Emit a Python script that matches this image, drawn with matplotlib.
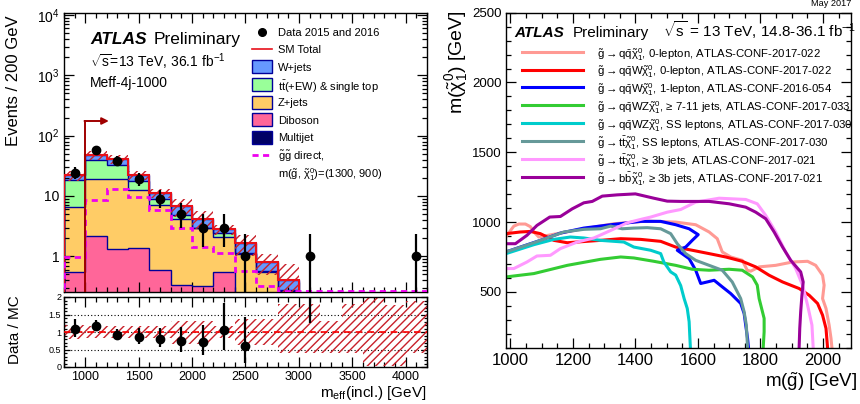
import numpy as np
import matplotlib
matplotlib.use("Agg")
import matplotlib.pyplot as plt
from matplotlib.ticker import FixedLocator, FixedFormatter, MultipleLocator, NullFormatter, LogLocator
from matplotlib.lines import Line2D
from matplotlib.patches import Rectangle

plt.rcParams['font.family'] = ['Liberation Sans', 'DejaVu Sans']
plt.rcParams['mathtext.fontset'] = 'custom'
plt.rcParams['mathtext.rm'] = 'Liberation Sans'
plt.rcParams['mathtext.it'] = 'Liberation Sans'
plt.rcParams['mathtext.bf'] = 'Liberation Sans:bold'
plt.rcParams['mathtext.sf'] = 'Liberation Sans'
plt.rcParams['hatch.linewidth'] = 1.0

# ---------------- left panel data ----------------
bin_edges = [800, 1000, 1200, 1400, 1600, 1800, 2000, 2200, 2400, 2600, 2800,
             3000, 3200, 3400, 3600, 3800, 4000, 4200]
diboson = [0.55, 2.15, 1.32, 1.39, 0.60, 0.33, 0.32, 0.55, 0.0, 0.0, 0.0, 0.0, 0.0, 0.0, 0.0, 0.0, 0.0]
zjets = [6.05, 16.75, 18.08, 11.0, 6.6, 3.87, 2.58, 1.54, 1.1, 0.55, 0.27, 0.12, 0.08, 0.06, 0.05, 0.04, 0.07]
ttbar = [11.6, 21.1, 13.6, 5.1, 1.6, 0.6, 0.05, 0.31, 0.02, 0.02, 0.01, 0.005, 0.003, 0.003, 0.003, 0.003, 0.003]
wjets = [3.8, 8.4, 8.6, 4.5, 2.4, 1.9, 1.25, 0.4, 0.54, 0.22, 0.13, 0.01, 0.005, 0.005, 0.005, 0.005, 0.005]
multijet = [0.0] * 17
signal = [0.97, 8.5, 12.9, 9.6, 5.8, 2.95, 1.43, 1.14, 0.57, 0.32, 0.27, 0.1, 0.08, 0.05, 0.04, 0.03, 0.05]
data = [24, 57, 38, 19, 9, 5, 3, 3, 1, 0, 0, 1, 0, 0, 0, 0, 1]
data_err_lo = [4.9, 7.5, 6.2, 4.4, 2.6, 2.1, 1.6, 1.6, 0.83, 0, 0, 0.83, 0, 0, 0, 0, 0.83]
data_err_hi = [5.9, 8.6, 7.2, 5.4, 3.4, 2.6, 2.1, 2.1, 1.37, 0, 0, 1.37, 0, 0, 0, 0, 1.37]
unc_up = [0.19, 0.17, 0.17, 0.17, 0.17, 0.32, 0.32, 0.18, 0.38, 0.38, 0.81, 0.81, 0.32, 0.81, 1.2, 0.76, 0.9]
unc_dn = [0.19, 0.17, 0.17, 0.17, 0.17, 0.33, 0.33, 0.18, 0.38, 0.38, 0.61, 0.61, 0.61, 0.60, 0.96, 0.96, 0.60]
ratio_ticks = [0, 0.5, 1, 1.5, 2]
ratio_ticklabels = ['0', '0.5', '1', '1.5', '2']
main_yticks = [1, 10, 100, 1000, 10000]
main_yticklabels = ['1', '10', '$10^{2}$', '$10^{3}$', '$10^{4}$']
sr_cut = 1000
sr_arrow_end = 1220
sr_arrow_height = 175

# ---------------- right panel data ----------------
c1_m = [989, 1011, 1027, 1048, 1064, 1075, 1091, 1150, 1235, 1331, 1438, 1529, 1593, 1636, 1662, 1678, 1705, 1742, 1758, 1769, 1796, 1849, 1903, 1951, 1977, 1999, 2004, 1999, 2010, 2020, 2026, 2029]
c1_v = [905, 971, 986, 986, 967, 929, 893, 917, 952, 988, 1007, 1000, 981, 929, 881, 786, 750, 726, 655, 648, 679, 690, 714, 719, 690, 619, 548, 452, 381, 262, 167, 100]
c2_m = [986, 1032, 1064, 1096, 1139, 1182, 1288, 1353, 1417, 1481, 1529, 1582, 1636, 1689, 1742, 1785, 1828, 1871, 1924, 1956, 1983, 1999, 2010, 2015]
c2_v = [917, 929, 933, 917, 869, 852, 869, 881, 876, 862, 821, 798, 774, 750, 719, 679, 619, 571, 524, 476, 417, 333, 238, 100]
c3_m = [986, 1032, 1096, 1160, 1235, 1321, 1417, 1481, 1529, 1572, 1601, 1582, 1561, 1534, 1572, 1593, 1609, 1630, 1652, 1678, 1705, 1737, 1748, 1753, 1759, 1762]
c3_v = [786, 821, 869, 921, 957, 981, 1005, 1005, 981, 952, 910, 869, 821, 798, 738, 655, 560, 571, 583, 536, 488, 417, 345, 262, 167, 100]
c4_m = [986, 1075, 1182, 1288, 1353, 1395, 1459, 1529, 1582, 1636, 1700, 1742, 1775, 1790, 1796, 1812, 1812, 1809]
c4_v = [607, 631, 690, 733, 750, 743, 719, 690, 662, 655, 662, 655, 607, 548, 452, 310, 214, 100]
c5_m = [986, 1075, 1139, 1192, 1235, 1288, 1363, 1395, 1449, 1481, 1491, 1513, 1529, 1545, 1556, 1566, 1572, 1574, 1576]
c5_v = [774, 838, 876, 893, 886, 869, 857, 821, 798, 774, 714, 643, 620, 545, 452, 381, 286, 190, 100]
c6_m = [986, 1075, 1171, 1235, 1288, 1321, 1358, 1395, 1438, 1481, 1513, 1534, 1561, 1593, 1636, 1678, 1710, 1737, 1748, 1755, 1759]
c6_v = [786, 852, 929, 948, 952, 971, 952, 957, 960, 952, 917, 845, 774, 726, 690, 655, 571, 452, 357, 262, 100]
c7_m = [986, 1011, 1053, 1085, 1128, 1160, 1214, 1267, 1321, 1374, 1417, 1449, 1502, 1545, 1593, 1668, 1753, 1790, 1817, 1849, 1881, 1913, 1935, 1951, 1965, 1969]
c7_v = [667, 667, 714, 757, 762, 810, 857, 886, 940, 995, 1019, 1036, 1071, 1090, 1143, 1171, 1162, 1131, 1048, 929, 786, 667, 548, 405, 262, 100]
c8_m = [986, 1016, 1053, 1085, 1126, 1160, 1198, 1235, 1262, 1294, 1342, 1400, 1459, 1502, 1545, 1636, 1700, 1753, 1785, 1817, 1844, 1871, 1897, 1929, 1937, 1933, 1929, 1926, 1924]
c8_v = [845, 845, 905, 976, 1036, 1040, 1095, 1138, 1148, 1186, 1195, 1202, 1171, 1150, 1148, 1148, 1131, 1107, 1071, 1024, 929, 821, 726, 643, 571, 476, 357, 238, 100]

curve_labels = [
    r"$\tilde{g}\rightarrow q\bar{q}\tilde{\chi}^{0}_{1}$, 0-lepton, ATLAS-CONF-2017-022",
    r"$\tilde{g}\rightarrow q\bar{q}W\tilde{\chi}^{0}_{1}$, 0-lepton, ATLAS-CONF-2017-022",
    r"$\tilde{g}\rightarrow q\bar{q}W\tilde{\chi}^{0}_{1}$, 1-lepton, ATLAS-CONF-2016-054",
    r"$\tilde{g}\rightarrow q\bar{q}WZ\tilde{\chi}^{0}_{1}$, ≥ 7-11 jets, ATLAS-CONF-2017-033",
    r"$\tilde{g}\rightarrow q\bar{q}WZ\tilde{\chi}^{0}_{1}$, SS leptons, ATLAS-CONF-2017-030",
    r"$\tilde{g}\rightarrow t\bar{t}\tilde{\chi}^{0}_{1}$, SS leptons, ATLAS-CONF-2017-030",
    r"$\tilde{g}\rightarrow t\bar{t}\tilde{\chi}^{0}_{1}$, ≥ 3b jets, ATLAS-CONF-2017-021",
    r"$\tilde{g}\rightarrow b\bar{b}\tilde{\chi}^{0}_{1}$, ≥ 3b jets, ATLAS-CONF-2017-021",
]
curve_colors = ['#ff9a94', '#ff0000', '#0000ff', '#33cc33', '#00cccc', '#669999', '#ff99ff', '#990099']

# ---------------- figure ----------------
W, H = 860, 404
def fx(x): return x / W
def fy(y): return 1 - y / H

fig = plt.figure(figsize=(8.6, 4.04), dpi=100)
ax1 = fig.add_axes([fx(64), fy(292), (427 - 64) / W, (292 - 13) / H])
axr = fig.add_axes([fx(64), fy(367), (427 - 64) / W, (367 - 297) / H])
ax2 = fig.add_axes([fx(505.7), fy(347.7), (851 - 505.7) / W, (347.7 - 12.7) / H])

navy = '#000099'
c_w, c_tt, c_z, c_db, c_mj = '#6699ff', '#99ff99', '#ffcc66', '#ff6699', '#000066'
hatch_col = '#c8202a'
sm_col = '#e8101a'
sig_col = '#ee00ee'

edges = np.array(bin_edges, dtype=float)
centers = 0.5 * (edges[:-1] + edges[1:])
ymin, ymax = 0.256, 1.08e4
floor = 1e-3

comps = [np.array(multijet), np.array(diboson), np.array(zjets), np.array(ttbar), np.array(wjets)]
cols = [c_mj, c_db, c_z, c_tt, c_w]
cum_prev = np.full(17, floor)
cums = []
running = np.zeros(17)
for comp, col in zip(comps, cols):
    running = running + comp
    top = np.maximum(running, floor)
    ax1.stairs(top, edges, baseline=cum_prev, fill=True, color=col, lw=0, zorder=1)
    cums.append(top.copy())
    cum_prev = top.copy()
for top in cums[1:]:
    ax1.stairs(top, edges, color=navy, lw=1.0, zorder=2)

total = running
up = total * (1 + np.array(unc_up))
dn = np.maximum(total * (1 - np.array(unc_dn)), floor)
ax1.stairs(up, edges, baseline=dn, fill=True, facecolor='none', edgecolor=hatch_col,
           hatch='////', lw=0, zorder=3)
ax1.stairs(np.maximum(total, floor), edges, color=sm_col, lw=1.5, zorder=4)
ax1.stairs(np.clip(signal, ymin * 1.03, None), edges, color=sig_col, lw=2.0,
           linestyle=(0, (2.2, 1.6)), zorder=5)

d = np.array(data, dtype=float)
m = d > 0
ax1.errorbar(centers[m], d[m], yerr=[np.array(data_err_lo)[m], np.array(data_err_hi)[m]],
             fmt='o', color='black', ms=6, lw=1.6, capsize=0, zorder=6)

# signal region arrow
ax1.plot([sr_cut, sr_cut], [ymin, sr_arrow_height], color='#a00000', lw=1.4, zorder=7)
ax1.annotate('', xy=(sr_arrow_end, sr_arrow_height), xytext=(sr_cut - 8, sr_arrow_height),
             arrowprops=dict(arrowstyle='-|>', color='#a00000', lw=1.4, mutation_scale=10,
                             shrinkA=0, shrinkB=0), zorder=7)

ax1.set_yscale('log')
ax1.set_xlim(800, 4200)
ax1.set_ylim(ymin, ymax)
ax1.yaxis.set_major_locator(FixedLocator(main_yticks))
ax1.yaxis.set_major_formatter(FixedFormatter(main_yticklabels))
ax1.yaxis.set_minor_locator(LogLocator(base=10, subs=np.arange(2, 10)))
ax1.yaxis.set_minor_formatter(NullFormatter())
ax1.xaxis.set_major_locator(MultipleLocator(500))
ax1.xaxis.set_minor_locator(MultipleLocator(100))
ax1.set_xticklabels([])
ax1.tick_params(axis='y', which='major', labelsize=10)

# ratio panel
mc = total
r_edges_up = 1 + np.array(unc_up)
r_edges_dn = 1 - np.array(unc_dn)
axr.stairs(r_edges_up, edges, baseline=r_edges_dn, fill=True, facecolor='none',
           edgecolor=hatch_col, hatch='////', lw=0, zorder=2)
for yv in [0.5, 1.0, 1.5]:
    axr.axhline(yv, color='black', lw=0.8, linestyle=(0, (1, 2)), zorder=1)
axr.axhline(1.0, color='#ff0000', lw=1.2, linestyle=(0, (4, 3)), zorder=3)
ratio = d[m] / mc[m]
axr.errorbar(centers[m], ratio,
             yerr=[np.array(data_err_lo)[m] / mc[m], np.array(data_err_hi)[m] / mc[m]],
             fmt='o', color='black', ms=6, lw=1.6, capsize=0, zorder=5, clip_on=True)
axr.set_xlim(800, 4200)
axr.set_ylim(0, 2)
axr.yaxis.set_major_locator(FixedLocator(ratio_ticks))
axr.yaxis.set_major_formatter(FixedFormatter(ratio_ticklabels))
axr.yaxis.set_minor_locator(MultipleLocator(0.1))
axr.xaxis.set_major_locator(MultipleLocator(500))
axr.xaxis.set_minor_locator(MultipleLocator(100))
axr.tick_params(axis='y', which='major', labelsize=6.5, pad=2)
axr.tick_params(axis='x', which='major', labelsize=9, pad=3)

for a in (ax1, axr, ax2):
    a.tick_params(which='both', direction='in', top=True, right=True, width=0.9)
    a.tick_params(which='major', length=7)
    a.tick_params(which='minor', length=3.5)
    for s in a.spines.values():
        s.set_linewidth(1.0)
axr.tick_params(axis='y', which='major', length=4)
axr.tick_params(axis='y', which='minor', length=2)

# left texts
fig.text(fx(14), fy(15), 'Events / 200 GeV', rotation=90, ha='center', va='top', fontsize=12)
fig.text(fx(15), fy(330), 'Data / MC', rotation=90, ha='center', va='center', fontsize=11)
fig.text(fx(427), fy(393), r'm$_{\mathrm{eff}}$(incl.) [GeV]', ha='right', va='center', fontsize=11)
fig.text(fx(90), fy(44), 'ATLAS', fontsize=12.5, fontweight='bold', fontstyle='italic', va='baseline')
fig.text(fx(154), fy(44), 'Preliminary', fontsize=12.5, va='baseline')
fig.text(fx(90), fy(67), r'$\sqrt{s}$=13 TeV, 36.1 fb$^{-1}$', fontsize=10, va='baseline')
fig.text(fx(90), fy(87), 'Meff-4j-1000', fontsize=10, va='baseline')

# left legend
leg_rows = [31.7 + 17.6 * i for i in range(9)]
leg_texts = ['Data 2015 and 2016', 'SM Total', 'W+jets', r'$t\bar{t}$(+EW) & single top',
             'Z+jets', 'Diboson', 'Multijet', r'$\tilde{g}\tilde{g}$ direct,',
             r'm($\tilde{g}$, $\tilde{\chi}^{0}_{1}$)=(1300, 900)']
for yv, t in zip(leg_rows, leg_texts):
    fig.text(fx(277.7), fy(yv), t, fontsize=8, va='center_baseline')
fig.add_artist(Line2D([fx(262)], [fy(leg_rows[0])], marker='o', color='black', ms=5.5))
fig.add_artist(Line2D([fx(252.3), fx(272.3)], [fy(leg_rows[1])] * 2, color=sm_col, lw=1.2))
for yv, col in zip(leg_rows[2:7], [c_w, c_tt, c_z, c_db, c_mj]):
    fig.add_artist(Rectangle((fx(252.3), fy(yv + 6.5)), 20 / W, 13 / H, facecolor=col,
                             edgecolor=navy, lw=1.0, transform=fig.transFigure))
fig.add_artist(Line2D([fx(252.3), fx(272.3)], [fy(leg_rows[7])] * 2, color=sig_col, lw=2.0,
                      linestyle=(0, (2.2, 1.6))))

# ---------------- right panel ----------------
curves = [(c1_m, c1_v), (c2_m, c2_v), (c3_m, c3_v), (c4_m, c4_v),
          (c5_m, c5_v), (c6_m, c6_v), (c7_m, c7_v), (c8_m, c8_v)]
for (cm, cv), col in zip(curves, curve_colors):
    ax2.plot(cm, cv, color=col, lw=2.2, solid_joinstyle='round')
ax2.set_xlim(985, 2090)
ax2.set_ylim(100, 2500)
ax2.xaxis.set_major_locator(MultipleLocator(200))
ax2.xaxis.set_minor_locator(MultipleLocator(50))
ax2.yaxis.set_major_locator(FixedLocator([500, 1000, 1500, 2000, 2500]))
ax2.yaxis.set_minor_locator(MultipleLocator(100))
ax2.tick_params(axis='x', which='major', labelsize=12, pad=4)
ax2.tick_params(axis='y', which='major', labelsize=9.5, pad=3)

leg2_rows = [51.7 + 17.85 * i for i in range(8)]
for yv, t, col in zip(leg2_rows, curve_labels, curve_colors):
    fig.add_artist(Line2D([fx(521.7), fx(583)], [fy(yv)] * 2, color=col, lw=2.2))
    fig.text(fx(596.7), fy(yv), t, fontsize=8.2, va='center_baseline')

fig.text(fx(514), fy(37), 'ATLAS', fontsize=11, fontweight='bold', fontstyle='italic', va='baseline')
fig.text(fx(572.7), fy(37), 'Preliminary', fontsize=11, va='baseline')
fig.text(fx(662.7), fy(37), r'$\sqrt{s}$ = 13 TeV, 14.8-36.1 fb$^{-1}$', fontsize=11, va='baseline')
fig.text(fx(851.7), fy(4), 'May 2017', fontsize=6.6, ha='right', va='center')
fig.text(fx(457), fy(10), r'm($\tilde{\chi}^{0}_{1}$) [GeV]', rotation=90, ha='center', va='top', fontsize=14)
fig.text(fx(857), fy(382), r'm($\tilde{g}$) [GeV]', ha='right', va='center', fontsize=13.5)

fig.savefig('out.png', dpi=100)
